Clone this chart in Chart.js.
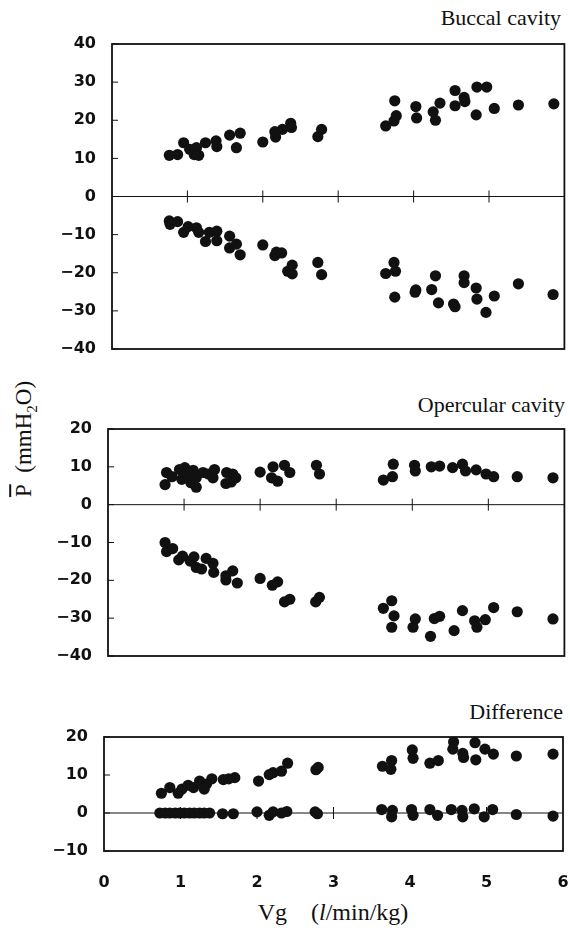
<!DOCTYPE html>
<html>
<head>
<meta charset="utf-8">
<script src="https://cdn.jsdelivr.net/npm/chart.js@4.4.1/dist/chart.umd.min.js"></script>
<style>
  html, body { margin: 0; padding: 0; background: #fff; }
  #wrap { position: relative; width: 570px; height: 933px; overflow: hidden; background: #fff; }
  canvas { position: absolute; left: 0; }
  .ttl { position: absolute; font-family: "Liberation Serif", "Times New Roman", serif; font-size: 22px; color: #111; white-space: nowrap; line-height: 22px; }
</style>
</head>
<body>
<div id="wrap">
  <div class="ttl" style="right:9px; top:7px;">Buccal cavity</div>
  <div class="ttl" style="right:5px; top:394px;">Opercular cavity</div>
  <div class="ttl" style="right:7px; top:701px;">Difference</div>
  <div class="ttl" style="left:333px; top:900px; font-size:24px; line-height:24px; transform:translateX(-50%);">Vg&#8195;(<i>l</i>/min/kg)</div>
  <div class="ttl" style="left:28px; top:439px; font-size:23px; transform:translate(-50%,-50%) rotate(-90deg);"><span style="text-decoration:overline">P</span>&#8194;(mmH<sub style="font-size:15px;">2</sub>O)</div>
  <canvas id="c1" width="570" height="340" style="top:24px;"></canvas>
  <canvas id="c2" width="570" height="260" style="top:410px;"></canvas>
  <canvas id="c3" width="570" height="213" style="top:720px;"></canvas>
</div>
<script>
// ---- Data ----
// Buccal cavity, positive pressure
const buccalPosVg = [0.76,0.87,0.95,1.03,1.12,1.15,1.09,1.24,1.38,1.39,1.56,1.70,1.65,2.00,2.16,2.17,2.26,2.37,2.38,2.78,2.73,3.63,3.74,3.77,3.75,4.03,4.04,4.26,4.29,4.35,4.55,4.55,4.67,4.68,4.84,4.97,4.83,5.07,5.39,5.86];
const buccalPosP  = [10.8,11.0,14.1,12.4,12.8,10.8,11.0,14.1,14.6,13.1,16.1,16.6,12.8,14.3,17.0,15.6,17.6,19.2,18.1,17.6,15.7,18.5,19.8,21.2,25.1,23.6,20.6,22.2,20.0,24.5,27.8,23.8,26.0,24.9,28.7,28.7,21.4,23.1,24.0,24.3];
// Buccal cavity, negative pressure
const buccalNegVg = [0.76,0.77,0.87,0.95,1.01,1.12,1.15,1.24,1.29,1.39,1.39,1.56,1.56,1.65,1.70,2.00,2.16,2.18,2.25,2.33,2.39,2.39,2.73,2.78,3.63,3.74,3.76,3.75,4.02,4.03,4.24,4.29,4.33,4.53,4.55,4.67,4.67,4.83,4.84,4.96,5.07,5.39,5.85];
const buccalNegP  = [-6.4,-7.3,-6.6,-9.4,-7.9,-8.2,-9.4,-11.8,-9.4,-9.1,-11.6,-10.4,-13.5,-12.5,-15.3,-12.7,-15.5,-14.6,-14.8,-19.6,-18.0,-20.3,-17.3,-20.5,-20.2,-17.3,-19.6,-26.4,-25.1,-24.5,-24.4,-20.8,-27.9,-28.2,-28.9,-20.8,-22.6,-24.0,-26.9,-30.4,-26.1,-22.9,-25.7];
// Opercular cavity, positive pressure
const opercPosVg = [0.77,0.75,0.84,0.94,1.01,0.97,1.05,1.12,1.09,1.16,1.16,1.25,1.32,1.40,1.38,1.56,1.55,1.64,1.68,1.62,2.00,2.17,2.15,2.23,2.32,2.39,2.74,2.78,3.62,3.74,3.75,4.03,4.04,4.25,4.36,4.53,4.66,4.70,4.84,4.97,5.07,5.38,5.85];
const opercPosP  = [8.5,5.3,7.4,9.3,9.8,6.7,8.1,9.1,5.8,4.6,7.1,8.5,8.1,9.3,7.1,8.5,5.6,8.1,7.1,6.0,8.6,10.0,7.1,6.2,10.4,8.5,10.4,8.1,6.5,7.4,10.7,10.4,8.9,10.0,10.2,9.8,10.7,8.9,9.2,8.1,7.4,7.4,7.1];
// Opercular cavity, negative pressure
const opercNegVg = [0.75,0.77,0.85,0.93,0.98,1.08,1.13,1.16,1.23,1.29,1.38,1.39,1.55,1.64,1.70,1.55,2.00,2.16,2.23,2.32,2.39,2.73,2.78,3.62,3.73,3.76,3.73,4.01,4.04,4.24,4.29,4.36,4.55,4.66,4.82,4.85,4.96,5.07,5.38,5.85];
const opercNegP  = [-10.0,-12.4,-11.6,-14.6,-13.6,-14.9,-13.8,-16.6,-17.0,-14.2,-15.5,-17.9,-19.9,-17.5,-20.7,-18.8,-19.5,-21.3,-20.4,-25.7,-25.0,-25.7,-24.5,-27.4,-25.4,-29.4,-32.4,-32.4,-30.2,-34.8,-30.1,-29.5,-33.3,-28.0,-30.7,-32.4,-30.4,-27.2,-28.3,-30.2];
// Difference, upper group
const diffHighVg = [0.75,0.86,0.97,1.02,1.10,1.17,1.25,1.31,1.34,1.41,1.56,1.63,1.71,2.02,2.16,2.21,2.32,2.40,2.77,2.80,3.64,3.76,3.75,4.03,4.04,4.26,4.37,4.57,4.56,4.69,4.70,4.85,4.86,4.98,5.09,5.39,5.87];
const diffHighP  = [5.2,6.7,5.2,6.3,7.3,6.7,8.4,6.3,7.6,9.0,8.8,9.0,9.3,8.4,10.1,10.6,11.0,13.1,11.4,12.0,12.3,13.8,11.5,16.6,14.4,13.1,13.8,18.7,16.8,15.7,14.6,18.5,14.0,16.8,15.5,15.0,15.5];
// Difference, group near zero
const diffLowVg = [0.73,0.80,0.86,0.93,0.99,1.05,1.12,1.18,1.25,1.31,1.38,1.55,1.69,2.00,2.16,2.21,2.32,2.39,2.76,2.79,3.63,3.76,3.77,4.02,4.04,4.26,4.36,4.54,4.68,4.69,4.84,4.97,5.08,5.39,5.87];
const diffLowP  = [0.0,0.0,0.0,0.0,0.0,0.0,0.0,0.0,0.0,0.0,0.0,-0.2,-0.2,0.3,-0.6,0.3,0.0,0.4,0.3,-0.2,0.9,-1.0,0.7,0.9,-0.6,0.9,-0.6,0.9,0.7,-1.0,1.1,-1.0,0.9,-0.4,-0.8];

// Axis ticks
const xTickValues = [0, 1, 2, 3, 4, 5, 6];
const buccalTicks = [40, 30, 20, 10, 0, -10, -20, -30, -40];
const opercTicks = [20, 10, 0, -10, -20, -30, -40];
const diffTicks = [20, 10, 0, -10];

// ---- Helpers ----
const INK = '#111';
const tickFont = { family: '"DejaVu Sans", "Liberation Sans", sans-serif', size: 16, weight: 'bold' };
const fmt = v => (v < 0 ? '\u2212' + Math.abs(v) : String(v));

function pts(xs, ys) { return xs.map((x, i) => ({ x: x, y: ys[i] })); }

function zeroPad(s) { s.paddingLeft = 0; s.paddingRight = 0; s.paddingTop = 0; s.paddingBottom = 0; }

const framePlugin = {
  id: 'frame',
  beforeDatasetsDraw(chart) {
    const { ctx, chartArea: a, scales } = chart;
    const xs = scales.x, ys = scales.y;
    ctx.save();
    ctx.strokeStyle = INK;
    ctx.lineWidth = 1;
    const y0 = ys.getPixelForValue(0);
    ctx.beginPath(); ctx.moveTo(a.left, y0); ctx.lineTo(a.right, y0); ctx.stroke();
    for (let v = 1; v <= 5; v++) {
      const px = xs.getPixelForValue(v);
      ctx.beginPath(); ctx.moveTo(px, y0 - 6); ctx.lineTo(px, y0 + 6); ctx.stroke();
    }
    ys.ticks.forEach(t => {
      const py = ys.getPixelForValue(t.value);
      ctx.beginPath(); ctx.moveTo(a.left, py); ctx.lineTo(a.left + 6, py); ctx.stroke();
    });
    ctx.lineWidth = 1.8;
    ctx.strokeRect(a.left, a.top, a.right - a.left, a.bottom - a.top);
    ctx.restore();
  }
};

function makeChart(id, cfg) {
  const datasets = cfg.series.map(s => ({
    data: pts(s[0], s[1]),
    pointRadius: 5.6,
    pointHoverRadius: 5.6,
    pointBackgroundColor: INK,
    pointBorderColor: INK,
    pointBorderWidth: 0,
    showLine: false
  }));
  return new Chart(document.getElementById(id), {
    type: 'scatter',
    data: { datasets },
    options: {
      responsive: false,
      animation: false,
      devicePixelRatio: 1,
      events: [],
      layout: { padding: cfg.padding },
      plugins: { legend: { display: false }, tooltip: { enabled: false }, title: { display: false } },
      scales: {
        x: {
          type: 'linear', min: 0, max: 6,
          display: cfg.showX,
          afterBuildTicks: s => { s.ticks = xTickValues.map(v => ({ value: v })); },
          afterFit: s => { zeroPad(s); if (cfg.showX) s.height = cfg.xHeight; },
          grid: { display: false, drawTicks: false },
          border: { display: false },
          ticks: { color: INK, font: tickFont, padding: 22, maxRotation: 0, minRotation: 0, autoSkip: false }
        },
        y: {
          type: 'linear', min: cfg.yTicks[cfg.yTicks.length - 1], max: cfg.yTicks[0],
          afterBuildTicks: s => { s.ticks = cfg.yTicks.map(v => ({ value: v })); },
          afterFit: s => { zeroPad(s); s.width = cfg.left; },
          grid: { display: false, drawTicks: false },
          border: { display: false },
          ticks: { color: INK, font: tickFont, padding: 16, callback: v => fmt(v), autoSkip: false }
        }
      }
    },
    plugins: [framePlugin]
  });
}

makeChart('c1', {
  series: [[buccalPosVg, buccalPosP], [buccalNegVg, buccalNegP]],
  yTicks: buccalTicks, left: 112, padding: { top: 20, bottom: 15, left: 0, right: 4 }, showX: false
});
makeChart('c2', {
  series: [[opercPosVg, opercPosP], [opercNegVg, opercNegP]],
  yTicks: opercTicks, left: 108, padding: { top: 19, bottom: 14, left: 0, right: 5 }, showX: false
});
makeChart('c3', {
  series: [[diffHighVg, diffHighP], [diffLowVg, diffLowP]],
  yTicks: diffTicks, left: 104, padding: { top: 17, bottom: 0, left: 0, right: 7 }, showX: true, xHeight: 82
});
</script>
</body>
</html>
